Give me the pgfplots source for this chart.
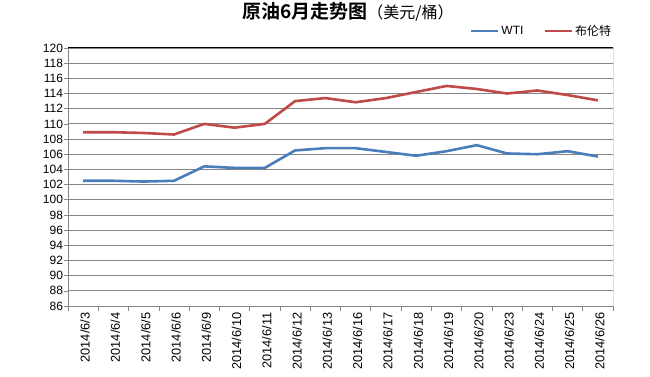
\documentclass[border=0pt]{standalone}
\usepackage{pgfplots}
\pgfplotsset{compat=1.18}
\usepackage{fontspec}
\setmainfont{Liberation Sans}
\newfontfamily\cjk{Noto Sans CJK SC}
\newfontfamily\cjkb{Noto Sans CJK SC Bold}
\definecolor{wti}{HTML}{4A7EBB}
\definecolor{brent}{HTML}{BE4B48}
\definecolor{gridc}{HTML}{868686}
\begin{document}
\begin{tikzpicture}
\useasboundingbox (0,0) rectangle (650pt,377pt);
\begin{axis}[
  at={(68pt,71pt)}, anchor=south west,
  scale only axis, width=545pt, height=258pt,
  xmin=-0.5, xmax=17.5, ymin=86, ymax=120,
  xtick={0,...,17},
  xticklabels={2014/6/3,2014/6/4,2014/6/5,2014/6/6,2014/6/9,2014/6/10,2014/6/11,2014/6/12,2014/6/13,2014/6/16,2014/6/17,2014/6/18,2014/6/19,2014/6/20,2014/6/23,2014/6/24,2014/6/25,2014/6/26},
  minor xtick={-0.5,0.5,...,17.5},
  ytick={86,88,...,120},
  major x tick style={draw=none},
  tick align=outside,
  major tick length=4pt, minor tick length=5pt,
  tick style={gridc, line width=0.6pt},
  ymajorgrids, grid style={gridc, line width=0.8pt},
  axis x line*=bottom, axis y line*=left,
  axis line style={gridc, line width=0.8pt, -},
  xticklabel style={rotate=90, anchor=east, font=\fontsize{12.8}{12.8}\selectfont, yshift=-2pt, xshift=1pt},
  yticklabel style={font=\fontsize{12}{12}\selectfont, xshift=2.5pt},
  /pgf/number format/assume math mode=true,
  legend style={at={(0.737,1.035)}, anchor=south west, draw=none, fill=none,
    legend columns=2, font=\fontsize{12}{12}\selectfont,
    /tikz/every even column/.append style={column sep=18pt},
    inner sep=0pt, cells={anchor=west}},
  legend image code/.code={\draw[#1] (0pt,0pt) -- (27pt,0pt);},
]
\addplot[wti, line width=2.6pt] coordinates {
(0,102.5) (1,102.5) (2,102.4) (3,102.5) (4,104.4) (5,104.2) (6,104.2) (7,106.5) (8,106.8)
(9,106.8) (10,106.3) (11,105.8) (12,106.4) (13,107.2) (14,106.1) (15,106.0) (16,106.4) (17,105.7)};
\addlegendentry{WTI}
\addplot[brent, line width=2.6pt] coordinates {
(0,108.9) (1,108.9) (2,108.8) (3,108.6) (4,110.0) (5,109.5) (6,110.0) (7,113.0) (8,113.4)
(9,112.85) (10,113.4) (11,114.2) (12,115.0) (13,114.6) (14,114.0) (15,114.4) (16,113.8) (17,113.1)};
\addlegendentry{\cjk 布伦特}
\draw[black, line width=1pt] (rel axis cs:0,1) -- (rel axis cs:1,1) -- (rel axis cs:1,0);
\end{axis}
\node at (348pt,365pt) {\cjkb\fontsize{19}{19}\selectfont 原油6月走势图\cjk\fontsize{16}{16}\selectfont （美元/桶）};
\end{tikzpicture}
\end{document}
